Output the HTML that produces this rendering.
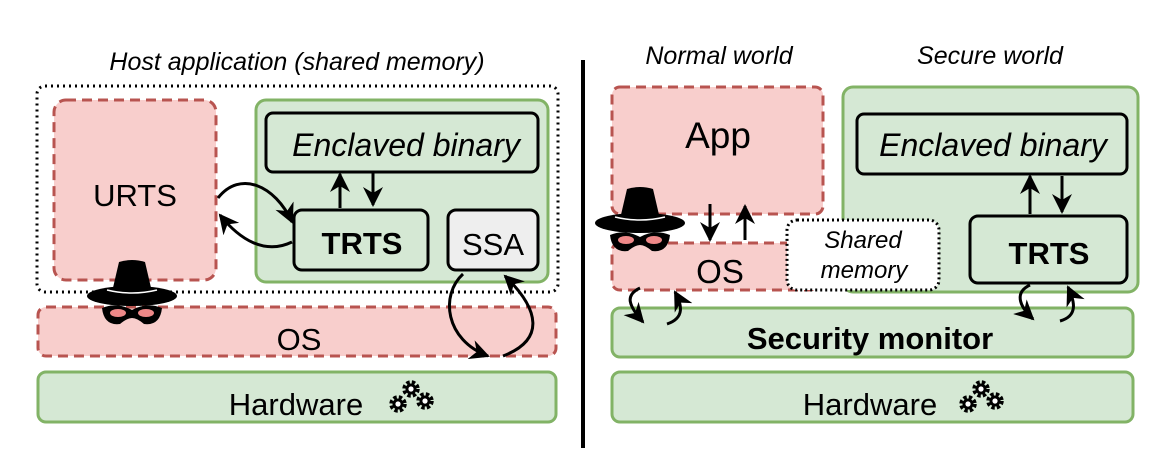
<!DOCTYPE html>
<html><head><style>body{margin:0;background:#fff}svg{display:block}text{font-family:"Liberation Sans",Arial,sans-serif}</style></head>
<body>
<svg width="1162" height="472" viewBox="0 0 1162 472" xmlns="http://www.w3.org/2000/svg">
<defs>
<marker id="b" viewBox="0 0 10 10" refX="9" refY="5" markerWidth="20" markerHeight="20" orient="auto" markerUnits="userSpaceOnUse">
<path d="M0,0 L10,5 L0,10 L3,5 z" fill="#000"/></marker>
<g id="hat">
<path d="M-20,-8 L-13,-38 Q0,-42 13,-38 L20,-8 Z" fill="#000"/>
<ellipse cx="0" cy="-4" rx="45" ry="10" fill="#000"/>
<path d="M-25,-10 Q0,-4 25,-10" stroke="#fff" stroke-width="1.5" fill="none"/>
<path d="M-30,8 Q-15,2 0,10 Q15,2 30,8 Q28,26 12,24 Q5,18 0,18 Q-5,18 -12,24 Q-28,26 -30,8Z" fill="#000"/>
<ellipse cx="-14" cy="13" rx="8" ry="4" fill="#e88"/><ellipse cx="14" cy="13" rx="8" ry="4" fill="#e88"/>
</g>
<g id="gear">
<circle r="6.5" fill="none" stroke="#000" stroke-width="4.5" stroke-dasharray="3.2 2"/>
<circle r="5.5" fill="#000"/><circle r="2.6" fill="#fff"/>
</g>
</defs>
<rect x="581" y="60" width="4" height="388" fill="#000"/>
<!-- LEFT -->
<text x="297" y="70" font-size="25" font-style="italic" text-anchor="middle">Host application (shared memory)</text>
<rect x="37" y="86" width="521" height="206" rx="8" fill="none" stroke="#000" stroke-width="3" stroke-dasharray="2 4"/>
<rect x="54" y="100" width="162" height="180" rx="12" fill="#f8cecc" stroke="#b85450" stroke-width="3" stroke-dasharray="10 6"/>
<text x="135" y="206" font-size="31" text-anchor="middle">URTS</text>
<rect x="256" y="100" width="292" height="182" rx="10" fill="#d5e8d4" stroke="#82b366" stroke-width="3"/>
<rect x="266" y="113" width="272" height="59" rx="7" fill="#d5e8d4" stroke="#000" stroke-width="3"/>
<text x="406" y="156" font-size="32" font-style="italic" text-anchor="middle">Enclaved binary</text>
<rect x="294" y="210" width="134" height="60" rx="8" fill="#d5e8d4" stroke="#000" stroke-width="3"/>
<text x="362" y="254" font-size="31" font-weight="bold" text-anchor="middle">TRTS</text>
<rect x="448" y="210" width="90" height="60" rx="8" fill="#eeeeee" stroke="#000" stroke-width="3"/>
<text x="493" y="255" font-size="31" text-anchor="middle">SSA</text>
<g stroke="#000" stroke-width="3" fill="none">
<path d="M340,208 V174" marker-end="url(#b)"/>
<path d="M373,172 V205" marker-end="url(#b)"/>
<path d="M218,198 C240,170 275,185 292,222" marker-end="url(#b)"/>
<path d="M292,242 C265,255 240,240 220,215" marker-end="url(#b)"/>
</g>
<rect x="38" y="307" width="518" height="49" rx="8" fill="#f8cecc" stroke="#b85450" stroke-width="3" stroke-dasharray="10 6"/>
<text x="299" y="350" font-size="31" text-anchor="middle">OS</text>
<g stroke="#000" stroke-width="3" fill="none">
<path d="M463,274 C440,295 445,340 488,356" marker-end="url(#b)"/>
<path d="M503,356 C545,340 540,310 505,276" marker-end="url(#b)"/>
</g>
<use href="#hat" x="132" y="300"/>
<rect x="38" y="372" width="518" height="50" rx="8" fill="#d5e8d4" stroke="#82b366" stroke-width="3"/>
<text x="296" y="415" font-size="31" text-anchor="middle">Hardware</text>
<use href="#gear" x="398" y="404"/><use href="#gear" x="411" y="389"/><use href="#gear" x="425" y="401"/>
<!-- RIGHT -->
<text x="719" y="64" font-size="25" font-style="italic" text-anchor="middle">Normal world</text>
<text x="990" y="64" font-size="25" font-style="italic" text-anchor="middle">Secure world</text>
<rect x="612" y="87" width="211" height="127" rx="8" fill="#f8cecc" stroke="#b85450" stroke-width="3" stroke-dasharray="10 6"/>
<text x="718" y="148" font-size="37" text-anchor="middle">App</text>
<rect x="612" y="243" width="205" height="47" rx="8" fill="#f8cecc" stroke="#b85450" stroke-width="3" stroke-dasharray="10 6"/>
<text x="720" y="283" font-size="33" text-anchor="middle">OS</text>
<rect x="843" y="87" width="295" height="205" rx="10" fill="#d5e8d4" stroke="#82b366" stroke-width="3"/>
<rect x="787" y="220" width="152" height="70" rx="10" fill="#fff" stroke="#000" stroke-width="3" stroke-dasharray="2 3"/>
<text x="863" y="248" font-size="24" font-style="italic" text-anchor="middle">Shared</text>
<text x="864" y="278" font-size="24" font-style="italic" text-anchor="middle">memory</text>
<rect x="857" y="114" width="270" height="60" rx="7" fill="#d5e8d4" stroke="#000" stroke-width="3"/>
<text x="993" y="156" font-size="32" font-style="italic" text-anchor="middle">Enclaved binary</text>
<rect x="970" y="216" width="157" height="67" rx="8" fill="#d5e8d4" stroke="#000" stroke-width="3"/>
<text x="1049" y="264" font-size="31" font-weight="bold" text-anchor="middle">TRTS</text>
<g stroke="#000" stroke-width="3" fill="none">
<path d="M1030,214 V176" marker-end="url(#b)"/>
<path d="M1062,176 V212" marker-end="url(#b)"/>
<path d="M710,204 V240" marker-end="url(#b)"/>
<path d="M745,240 V206" marker-end="url(#b)"/>
</g>
<rect x="612" y="308" width="521" height="49" rx="8" fill="#d5e8d4" stroke="#82b366" stroke-width="3"/>
<text x="870" y="349" font-size="31" font-weight="bold" text-anchor="middle">Security monitor</text>
<g stroke="#000" stroke-width="3" fill="none">
<path d="M640,288 C625,295 628,305 643,322" marker-end="url(#b)"/>
<path d="M667,324 C685,318 682,305 675,292" marker-end="url(#b)"/>
<path d="M1030,285 C1015,292 1018,305 1033,319" marker-end="url(#b)"/>
<path d="M1060,321 C1078,316 1075,302 1068,287" marker-end="url(#b)"/>
</g>
<use href="#hat" x="640" y="227"/>
<rect x="612" y="372" width="521" height="50" rx="8" fill="#d5e8d4" stroke="#82b366" stroke-width="3"/>
<text x="870" y="415" font-size="31" text-anchor="middle">Hardware</text>
<use href="#gear" x="968" y="404"/><use href="#gear" x="981" y="389"/><use href="#gear" x="995" y="401"/>
</svg>
</body></html>
